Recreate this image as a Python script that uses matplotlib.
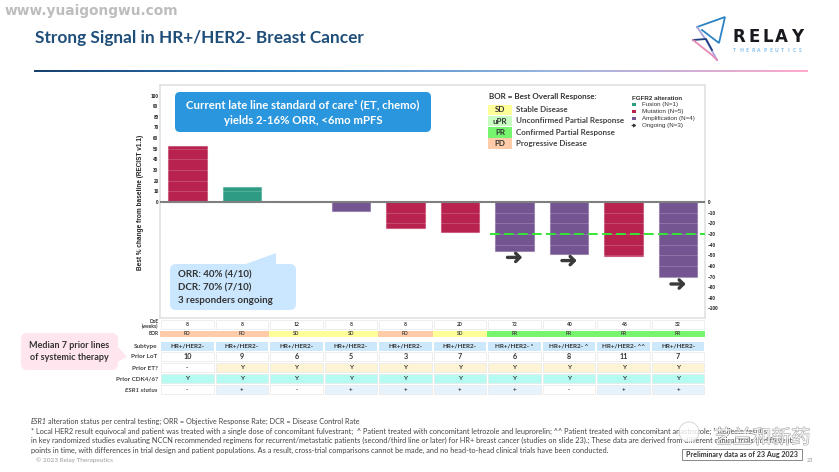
import numpy as np
import matplotlib
matplotlib.use("Agg")
import matplotlib.pyplot as plt
import matplotlib.patheffects as pe
from matplotlib.patches import FancyBboxPatch, Rectangle, Polygon, Circle
from matplotlib.colors import LinearSegmentedColormap

# ---- data ----
patients = list(range(10))
best_change = [53, 14, 0, -8, -24.5, -28, -46, -49, -51, -70]
alteration = ["Mutation", "Fusion", "Mutation", "Amplification", "Mutation", "Mutation",
              "Amplification", "Amplification", "Mutation", "Amplification"]
ongoing = [6, 7, 9]
arrow_values = [-52, -55, -77]
dor_weeks = ["8", "8", "12", "8", "8", "20", "72", "40", "48", "32"]
bor = ["PD", "PD", "SD", "SD", "PD", "SD", "PR", "PR", "PR", "PR"]
subtype = ["HR+/HER2-"] * 6 + ["HR+/HER2- *", "HR+/HER2- ^", "HR+/HER2- ^^", "HR+/HER2-"]
prior_lot = ["10", "9", "6", "5", "3", "7", "6", "8", "11", "7"]
prior_et = ["-", "Y", "Y", "Y", "Y", "Y", "Y", "Y", "Y", "Y"]
prior_cdk = ["Y"] * 10
esr1 = ["-", "+", "-", "+", "+", "+", "+", "-", "+", "+"]
pos_ticks = list(range(0, 101, 10))
neg_ticks = list(range(0, -101, -10))
bor_legend = [("SD", "Stable Disease"), ("uPR", "Unconfirmed Partial Response"),
              ("PR", "Confirmed Partial Response"), ("PD", "Progressive Disease")]
fgfr_legend = [("Fusion (N=1)", "Fusion"), ("Mutation (N=5)", "Mutation"),
               ("Amplification (N=4)", "Amplification")]
footnotes = [
    "alteration status per central testing; ORR = Objective Response Rate; DCR = Disease Control Rate",
    "* Local HER2 result equivocal and patient was treated with a single dose of concomitant fulvestrant;  ^ Patient treated with concomitant letrozole and leuprorelin; ^^ Patient treated with concomitant anastrozole; ¹ Reflects results",
    "in key randomized studies evaluating NCCN recommended regimens for recurrent/metastatic patients (second/third line or later) for HR+ breast cancer (studies on slide 23).; These data are derived from different clinical trials at different",
    "points in time, with differences in trial design and patient populations. As a result, cross-trial comparisons cannot be made, and no head-to-head clinical trials have been conducted.",
]

# ---- styles ----
W, H = 839, 472
ALT_COL = {"Fusion": "#2E9C84", "Mutation": "#B8224F", "Amplification": "#745592"}
BOR_COL = {"PD": "#FFCBA8", "SD": "#FFFF99", "PR": "#77F56E", "uPR": "#C8FFC0"}
BODY = "Lato"
ARIAL = "Liberation Sans"
DARK = "#3A3A3A"

fig = plt.figure(figsize=(W / 100, H / 100), dpi=100, facecolor="white")
ax = fig.add_axes([160 / W, 1 - 318 / H, 545 / W, (318 - 85) / H], facecolor="none", zorder=2)
ov = fig.add_axes([0, 0, 1, 1], facecolor="none", zorder=3)
ov.set_xlim(0, W); ov.set_ylim(H, 0); ov.axis("off")

# ---- chart ----
ax.set_xlim(-0.505, 9.495)
ax.set_ylim((202 - 318) / 1.065, (202 - 85) / 1.065)
ax.bar(patients, best_change, width=0.7, color=[ALT_COL[a] for a in alteration],
       edgecolor=[matplotlib.colors.to_rgba(ALT_COL[a], 0.45) for a in alteration], linewidth=0.8, zorder=2)
for v in neg_ticks[1:] + pos_ticks[1:]:
    ax.axhline(v, color="white", lw=0.5, alpha=0.25, zorder=3)
ax.axhline(0, color="#7F7F7F", lw=1.5, zorder=4)
ax.plot([5.55, 9.495], [-30, -30], color="#35E635", lw=1.4, dashes=(5, 2.2), zorder=5)
for i, v in zip(ongoing, arrow_values):
    ax.annotate("", xy=(i + 0.14, v), xytext=(i - 0.13, v), zorder=6,
                arrowprops=dict(arrowstyle="->,head_width=0.3,head_length=0.3", color=DARK, lw=2.4,
                                shrinkA=0, shrinkB=0))
ax.set_xticks([])
ax.set_yticks(pos_ticks)
ax.tick_params(axis="y", length=0, pad=1, labelsize=3.4)
for t in ax.get_yticklabels():
    t.set_fontfamily(ARIAL); t.set_fontweight("bold"); t.set_color("#222222")
for s in ax.spines.values():
    s.set_color("#E2E2E2"); s.set_linewidth(1.2)
ax2 = ax.twinx()
ax2.set_ylim(ax.get_ylim()); ax2.set_xticks([])
ax2.set_yticks(neg_ticks)
ax2.tick_params(axis="y", length=0, pad=2, labelsize=3.4)
for t in ax2.get_yticklabels():
    t.set_fontfamily(ARIAL); t.set_fontweight("bold"); t.set_color("#222222")
for s in ax2.spines.values():
    s.set_visible(False)
ov.text(141, 202, "Best % change from baseline (RECIST v1.1)", rotation=90, ha="center", va="center",
        fontsize=4.7, fontweight="bold", family=ARIAL, color="#222222")

# ---- header ----
ov.text(5, 11, "www.yuaigongwu.com", fontsize=9.9, fontweight="bold", family="DejaVu Sans", color="#BDBDBD", va="center")
ov.text(35, 38, "Strong Signal in HR+/HER2- Breast Cancer", fontsize=12.45, fontweight="bold", family=BODY,
        color="#1F4E79", va="center")
cmap = LinearSegmentedColormap.from_list("rule", ["#17406F", "#2F83C4", "#9AB6E0", "#FFA9CC"])
ov.imshow(np.linspace(0, 1, 256)[None, :], extent=(34, 808, 72, 70.6), cmap=cmap, aspect="auto", zorder=1)
ov.set_xlim(0, W); ov.set_ylim(H, 0)

# logo
ov.plot([697, 725, 719, 702], [27, 17, 43, 30], color="#2B83C6", lw=1.3, solid_joinstyle="miter")
ov.plot([697, 706, 717], [27, 40, 60], color="#A8A4DA", lw=1.3)
ov.plot([693, 706, 712], [40, 39, 50], color="#1F3F80", lw=1.3)
ov.plot([693, 712, 717], [40, 55, 60], color="#E68BB8", lw=1.3)
for x, ch in zip([733, 749, 763, 775, 791], "RELAY"):
    ov.text(x, 37, ch, fontsize=12, fontweight="bold", family="DejaVu Sans", color="#17191F", va="center")
for x, ch in zip(np.linspace(733, 799, 12), "THERAPEUTICS"):
    ov.text(x, 50.5, ch, fontsize=3.7, fontweight="bold", family="Open Sans", color="#8CC4EE", va="center")

# ---- callouts ----
def rbox(x0, y0, x1, y1, color, r=5, **kw):
    ov.add_patch(FancyBboxPatch((x0 + r, y0 + r), x1 - x0 - 2 * r, y1 - y0 - 2 * r,
                                boxstyle=f"round,pad={r},rounding_size={r}", fc=color, ec="none", **kw))

rbox(175, 92, 431, 132, "#2A96DE", r=5)
ov.text(303, 105, "Current late line standard of care¹ (ET, chemo)", color="white", fontsize=8.2, fontweight="bold",
        family=BODY, ha="center", va="center")
ov.text(303, 120, "yields 2-16% ORR, <6mo mPFS", color="white", fontsize=8.2, fontweight="bold",
        family=BODY, ha="center", va="center")

rbox(170, 264, 296, 310, "#CAE7FF", r=6)
ov.add_patch(Polygon([(243, 265), (276, 253), (276, 265)], fc="#CAE7FF", ec="none"))
for y, s in zip([274.5, 287.5, 300.5], ["ORR: 40% (4/10)", "DCR: 70% (7/10)", "3 responders ongoing"]):
    ov.text(178, y, s, fontsize=7, fontweight="bold", family=BODY, color="#333333", va="center")

rbox(21, 333, 118, 370, "#FFE6EE", r=6)
ov.add_patch(Polygon([(117, 346), (127, 357), (117, 362)], fc="#FFE6EE", ec="none"))
ov.text(69, 346, "Median 7 prior lines", fontsize=6.5, fontweight="bold", family=BODY, color="#333333", ha="center", va="center")
ov.text(69, 357, "of systemic therapy", fontsize=6.5, fontweight="bold", family=BODY, color="#333333", ha="center", va="center")

# ---- BOR legend ----
ov.text(489, 97, "BOR = Best Overall Response:", fontsize=5.75, fontweight="bold", family=BODY, color="#333333", va="center")
for y, (code, name) in zip([110, 121, 132.5, 143.5], bor_legend):
    ov.add_patch(Rectangle((488, y - 5.3), 24, 10.6, fc=BOR_COL[code], ec="none"))
    ov.text(500, y, code, fontsize=5.8, fontweight="bold", family=BODY, color="#333333", ha="center", va="center")
    ov.text(515.5, y, name, fontsize=5.8, fontweight="bold", family=BODY, color="#444444", va="center")

# ---- FGFR2 legend ----
ov.text(632, 98, "FGFR2 alteration", fontsize=4.5, fontweight="bold", family=ARIAL, color="#333333", va="center")
for y, (label_text, key) in zip([104.7, 111.5, 118.5], fgfr_legend):
    ov.add_patch(Rectangle((632.2, y - 1.8), 3.6, 3.6, fc=ALT_COL[key], ec="none"))
    ov.text(641.5, y, label_text, fontsize=4.5, family=ARIAL, color="#333333", va="center")
ov.annotate("", xy=(636.5, 125.5), xytext=(632, 125.5),
            arrowprops=dict(arrowstyle="-|>,head_width=0.1,head_length=0.15", color=DARK, lw=0.8, shrinkA=0, shrinkB=0))
ov.text(641.5, 125.5, "Ongoing (N=3)", fontsize=4.5, family=ARIAL, color="#333333", va="center")

# ---- table ----
CELL_X0, CELL_W, CELL_STEP = 161.0, 52.5, 54.55
def row(y0, h, vals, colors, size=4.6, weight="bold", edge="#E8E8E8"):
    for i, (v, c) in enumerate(zip(vals, colors)):
        x = CELL_X0 + i * CELL_STEP
        ov.add_patch(Rectangle((x, y0), CELL_W, h, fc=c, ec=edge, lw=0.5))
        ov.text(x + CELL_W / 2, y0 + h / 2, v, fontsize=size, fontweight=weight, family=BODY,
                color="#333333", ha="center", va="center")

def label(y, s, style="normal"):
    ov.text(157.5, y, s, fontsize=4.6, fontweight="bold", style=style, family=BODY, color="#444444", ha="right", va="center")

row(319.5, 9.5, dor_weeks, ["white"] * 10, size=3.6)
for i, b in enumerate(bor):
    x = 160 + i * 54.5
    ov.add_patch(Rectangle((x, 330.5), 54.5, 6, fc=BOR_COL[b], ec="none"))
    ov.text(x + 27.25, 333.5, b, fontsize=3.6, fontweight="bold", family=BODY, color="#444444", ha="center", va="center")
ov.text(158.5, 321.5, "DoE", fontsize=3.5, fontweight="bold", family=BODY, color="#333333", ha="right", va="center")
ov.text(158.5, 326.5, "(weeks)", fontsize=3.5, fontweight="bold", family=BODY, color="#333333", ha="right", va="center")
ov.text(158.5, 333.5, "BOR", fontsize=3.5, fontweight="bold", family=BODY, color="#333333", ha="right", va="center")

ET_C, CDK_C, SUB_C, ESR_C = "#FFF3D6", "#B5FBF2", "#CDE7FB", "#E6F3FD"
row(341.7, 9, subtype, [SUB_C] * 10, edge="none")
row(352.4, 9, prior_lot, ["white"] * 10, size=5.2)
row(363.3, 9, prior_et, [ET_C if v == "Y" else "white" for v in prior_et])
row(374.2, 9, prior_cdk, [CDK_C] * 10)
row(385.1, 9, esr1, [ESR_C if v == "+" else "white" for v in esr1])
for y, s, st in zip([346.5, 357, 368, 379, 390],
                    ["Subtype", "Prior LoT", "Prior ET?", "Prior CDK4/6?", "ESR1 status"],
                    ["normal"] * 4 + ["italic"]):
    label(y, s, st)

# ---- footer ----
ov.text(31, 421.7, "ESR1", fontsize=5.2, style="italic", family=BODY, color="#444444", va="center")
ov.text(47.5, 421.7, footnotes[0], fontsize=5.2, family=BODY, color="#444444", va="center")
for y, s, fs in zip([431, 440.5, 450], footnotes[1:], [5.35, 5.3, 5.35]):
    ov.text(31, y, s, fontsize=fs, family=BODY, color="#444444", va="center")
ov.text(36, 460.5, "© 2023 Relay Therapeutics", fontsize=4.6, family=BODY, color="#999999", va="center")
ov.text(807, 460, "23", fontsize=4, family=BODY, color="#999999", va="center")

# ---- bottom-right watermark ----
ov.add_patch(Circle((689, 432), 10, fc="white", ec="#BBBBBB", lw=0.5, alpha=0.8, zorder=4))
ov.text(762, 438, "艺兰和新药", fontsize=14, family="Noto Sans CJK SC", color="white", alpha=0.8, ha="center", va="center", zorder=4,
        path_effects=[pe.withStroke(linewidth=0.7, foreground="#8A8A8A")])

ov.add_patch(Rectangle((682, 449), 120, 11, fc="white", ec="#888888", lw=0.7, zorder=5))
ov.text(742, 454.7, "Preliminary data as of 23 Aug 2023", fontsize=5.15, fontweight="bold", family=BODY,
        color="#333333", ha="center", va="center", zorder=6)

fig.savefig("out.png", dpi=100)
